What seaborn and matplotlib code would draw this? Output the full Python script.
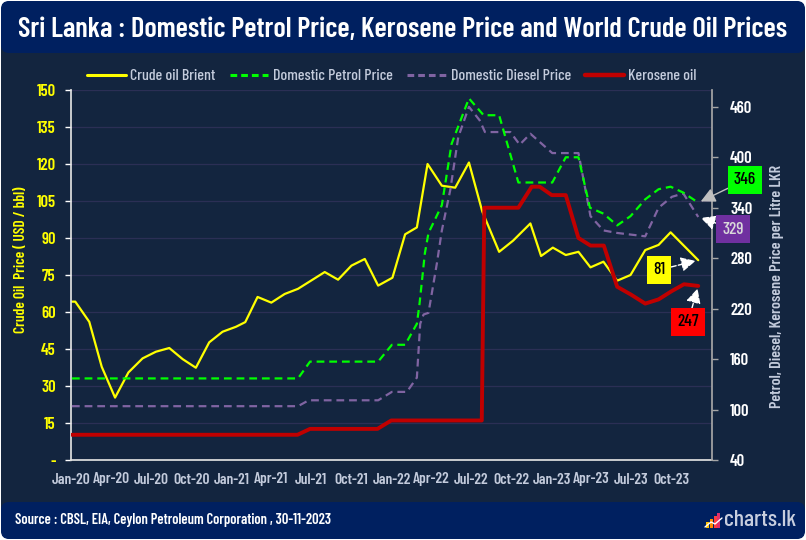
import numpy as np
import pandas as pd
import matplotlib
matplotlib.use("Agg")
import matplotlib.pyplot as plt
import matplotlib.dates as mdates
from matplotlib.patches import FancyBboxPatch, Rectangle
from matplotlib.lines import Line2D
import seaborn as sns

# x values: months since Jan-2020
brent_month = [0.07, 0.32, 1.37, 2.3, 3.3, 4.3, 5.36, 6.36, 7.36, 8.36, 9.35, 10.35, 11.35, 12.35,
               13.05, 13.97, 15, 16, 17, 18, 19, 20, 21, 22, 23, 24.07, 25.02, 25.9, 26.7, 27.77,
               28.77, 29.8, 30.8, 32.06, 33.1, 34.4, 35.2, 36.08, 37.05, 38, 38.9, 39.87, 40.9,
               41.9, 43, 44, 44.9, 46.97]
brent_usd = [64.2, 64.2, 56, 37.8, 25.3, 35.5, 41.2, 43.9, 45.4, 40.9, 37.4, 47.7, 52, 54,
             55.9, 66.1, 63.8, 67.3, 69.4, 72.8, 76.2, 73.1, 78.8, 81.5, 70.7, 73.9, 91.5, 94.3,
             120, 111.2, 110.4, 120.6, 100.7, 84.4, 88.9, 95.9, 82.7, 86.1, 83.1, 84.4, 78.1,
             80.4, 72.7, 75, 85.1, 87.2, 92.3, 81]

petrol_month = [0.07, 17.0, 17.9, 23.0, 24.03, 25.02, 25.9, 26.1, 26.5, 26.77, 27.77, 28.5, 29.8,
                30.9, 32.06, 33.5, 36.04, 37.05, 38.0, 38.86, 39.87, 40.9, 41.9, 43.0, 44.0,
                44.9, 45.85, 46.97]
petrol_lkr = [137, 137, 157, 157, 177, 177, 202, 226, 286, 310, 343, 416, 470, 450, 450, 370,
              370, 400, 400, 340, 333, 319, 330, 350, 362, 365, 358, 346]

diesel_month = [0.07, 17.0, 17.8, 23.0, 24.03, 25.15, 25.9, 26.15, 26.4, 26.77, 27.4, 27.77,
                28.4, 29.0, 29.8, 30.6, 31.0, 32.9, 33.6, 34.4, 36.04, 38.0, 38.9, 39.87, 40.9,
                43.0, 44.0, 45.0, 45.85, 46.97]
diesel_lkr = [104, 104, 111, 111, 121, 121, 138, 202, 213, 215, 274, 313, 361, 424, 460, 444,
              430, 430, 415, 428, 405, 405, 330, 313, 310, 306, 340, 353, 357, 329]

kerosene_month = [0.07, 16.96, 17.9, 22.95, 23.98, 30.76, 30.95, 33.5, 34.5, 35.1, 36.0, 37.05,
                  38.0, 38.9, 39.9, 40.9, 41.9, 43.0, 44.0, 45.0, 45.9, 46.97]
kerosene_lkr = [70, 70, 77, 77, 87, 87, 340, 340, 365, 365, 355, 355, 304, 295, 295, 246, 237,
                226, 231, 241, 249, 247]

series_names = ["Crude oil Brient", "Domestic Petrol Price", "Domestic Diesel Price", "Kerosene oil"]
left_ticks = list(range(0, 151, 15))
right_ticks = list(range(40, 461, 60))

START = pd.Timestamp("2020-01-01")


def to_dates(months):
    return START + pd.to_timedelta(np.array(months) * 30.4375, unit="D")


BG = "#13253f"
BAND = "#002060"
GRID = "#2b2f55"
LIGHT = "#c3cbdc"
YELLOW = "#ffff00"
GREEN = "#00ff00"
PURPLE = "#8064a2"
RED = "#c00000"

sns.set_theme(style="dark")
plt.rcParams['font.family'] = ['Barlow Condensed', 'DejaVu Sans']

fig = plt.figure(figsize=(8.06, 5.40), dpi=100)
fig.patch.set_facecolor("white")

# background layer in pixel units
bg = fig.add_axes([0, 0, 1, 1], zorder=-5)
bg.set_xlim(0, 806)
bg.set_ylim(540, 0)
bg.axis("off")
bg.add_patch(FancyBboxPatch((1, 1), 804, 538, boxstyle="round,pad=0,rounding_size=10",
                            fc=BG, ec="none"))
bg.add_patch(FancyBboxPatch((1, 1), 804, 52, boxstyle="round,pad=0,rounding_size=8",
                            fc=BAND, ec="none"))
bg.add_patch(FancyBboxPatch((1, 502), 804, 37, boxstyle="round,pad=0,rounding_size=8",
                            fc=BAND, ec="none"))
bg.text(403, 29, "Sri Lanka : Domestic Petrol Price, Kerosene Price and World Crude Oil Prices",
        color="white", fontsize=20.5, fontweight="semibold", ha="center", va="center")
bg.text(15, 520, "Source : CBSL, EIA, Ceylon Petroleum Corporation , 30-11-2023",
        color="white", fontsize=10.5, fontweight="semibold", ha="left", va="center")
# charts.lk logo
for i, c in enumerate(["#ffc000", "#ff8c00", "#ff3d3d", "#e0306a"]):
    h = 6 + i * 3
    bg.add_patch(Rectangle((706 + i * 3.8, 528 - h), 3, h, fc=c, ec="none"))
bg.plot([705, 711, 715, 722], [527, 522, 524, 518], color="white", lw=1)
bg.text(724, 520, "charts.lk", color="#c8cede", fontsize=17, fontweight="medium",
        ha="left", va="center")

ax = fig.add_axes([71 / 806, 80 / 540, 641 / 806, 370 / 540])
ax.set_facecolor("none")
ax2 = ax.twinx()

sns.lineplot(x=to_dates(brent_month), y=brent_usd, ax=ax, color=YELLOW, lw=1.6,
             estimator=None, sort=False, legend=False)
sns.lineplot(x=to_dates(kerosene_month), y=kerosene_lkr, ax=ax2, color=RED, lw=2.8,
             estimator=None, sort=False, legend=False)
sns.lineplot(x=to_dates(diesel_month), y=diesel_lkr, ax=ax2, color=PURPLE, lw=1.6,
             dashes=False, linestyle=(0, (3.5, 2.2)), estimator=None, sort=False, legend=False)
sns.lineplot(x=to_dates(petrol_month), y=petrol_lkr, ax=ax2, color=GREEN, lw=1.6,
             dashes=False, linestyle=(0, (3.5, 2.2)), estimator=None, sort=False, legend=False)

ax.set_xlim(START, pd.Timestamp("2024-01-01"))
ax.set_ylim(0, 150)
ax2.set_ylim(40, 480)

ax.set_xticks(pd.date_range("2020-01-01", "2023-10-01", freq="3MS"))
ax.xaxis.set_major_formatter(mdates.DateFormatter("%b-%y"))
ax.set_yticks(left_ticks)
ax.set_yticklabels(["-"] + [str(v) for v in left_ticks[1:]])
ax2.set_yticks(right_ticks)

ax.grid(axis="y", color=GRID, lw=0.9)
ax.grid(axis="x", visible=False)
ax2.grid(False)
ax.tick_params(axis="x", length=0, colors=LIGHT, labelsize=11, pad=9)
ax.tick_params(axis="y", left=True, length=4, width=1, color="white", labelcolor=YELLOW,
               labelsize=12, pad=7)
ax2.tick_params(axis="y", right=True, length=4, width=1, color="#a6a6a6", labelcolor="white",
                labelsize=12, pad=9)
for lab in ax.get_xticklabels() + ax.get_yticklabels() + ax2.get_yticklabels():
    lab.set_fontweight("semibold")
ax.set_xlabel("")

for a in (ax, ax2):
    for s in a.spines.values():
        s.set_visible(False)
ax.spines["left"].set_visible(True)
ax.spines["left"].set_color("#e0e0e0")
ax.spines["bottom"].set_visible(True)
ax.spines["bottom"].set_color("#e0e0e0")
ax2.spines["right"].set_visible(True)
ax2.spines["right"].set_color("#a6a6a6")

fig.text(21 / 806, 1 - 260 / 540, "Crude Oil  Price ( USD / bbl)", rotation=90, color=YELLOW,
         fontsize=11, fontweight="semibold", ha="center", va="center")
fig.text(777 / 806, 1 - 286 / 540, "Petrol, Diesel, Kerosene Price per Litre LKR", rotation=90,
         color=LIGHT, fontsize=11.5, fontweight="semibold", ha="center", va="center")

handles = [
    Line2D([], [], color=YELLOW, lw=2.2),
    Line2D([], [], color=GREEN, lw=2.2, linestyle=(0, (2.2, 1.3))),
    Line2D([], [], color=PURPLE, lw=2.2, linestyle=(0, (2.2, 1.3))),
    Line2D([], [], color=RED, lw=3.2),
]
fig.legend(handles, series_names, loc="center", bbox_to_anchor=(392 / 806, 1 - 76 / 540),
           ncol=4, frameon=False, prop={"size": 11.5, "weight": "medium"}, labelcolor=LIGHT,
           handlelength=2.4, handletextpad=0.3, columnspacing=0.9)

# end labels
last = to_dates([46.97])[0]
arrow_solid = dict(arrowstyle="-|>,head_length=0.7,head_width=0.35", color="#c0c0c0", lw=1,
                   shrinkA=0, shrinkB=2)
arrow_dash = dict(arrowstyle="-|>,head_length=0.7,head_width=0.35", color="white", lw=1,
                  linestyle="--", shrinkA=0, shrinkB=2)
box = dict(fontsize=12.5, fontweight="medium", ha="center", va="center",
           textcoords="figure pixels")
ax2.annotate(str(petrol_lkr[-1]), xy=(last, petrol_lkr[-1]), xytext=(745, 540 - 180),
             color="black", bbox=dict(boxstyle="square,pad=0.35", fc=GREEN, ec="none"),
             arrowprops=arrow_solid, **box)
ax2.annotate(str(diesel_lkr[-1]), xy=(last, diesel_lkr[-1]), xytext=(733, 540 - 229),
             color="#d9d9d9", bbox=dict(boxstyle="square,pad=0.35", fc="#7030a0", ec="none"),
             arrowprops=arrow_dash, **box)
ax.annotate(str(round(brent_usd[-1])), xy=(last, brent_usd[-1]), xytext=(659, 540 - 270),
            color="black", bbox=dict(boxstyle="square,pad=0.35", fc=YELLOW, ec="none"),
            arrowprops=arrow_dash, **box)
ax2.annotate(str(kerosene_lkr[-1]), xy=(last, kerosene_lkr[-1]), xytext=(688, 540 - 322),
             color="black", bbox=dict(boxstyle="square,pad=0.35", fc="#ff0000", ec="none"),
             arrowprops=arrow_dash, **box)

fig.savefig("out.png", dpi=100, facecolor=fig.get_facecolor())
